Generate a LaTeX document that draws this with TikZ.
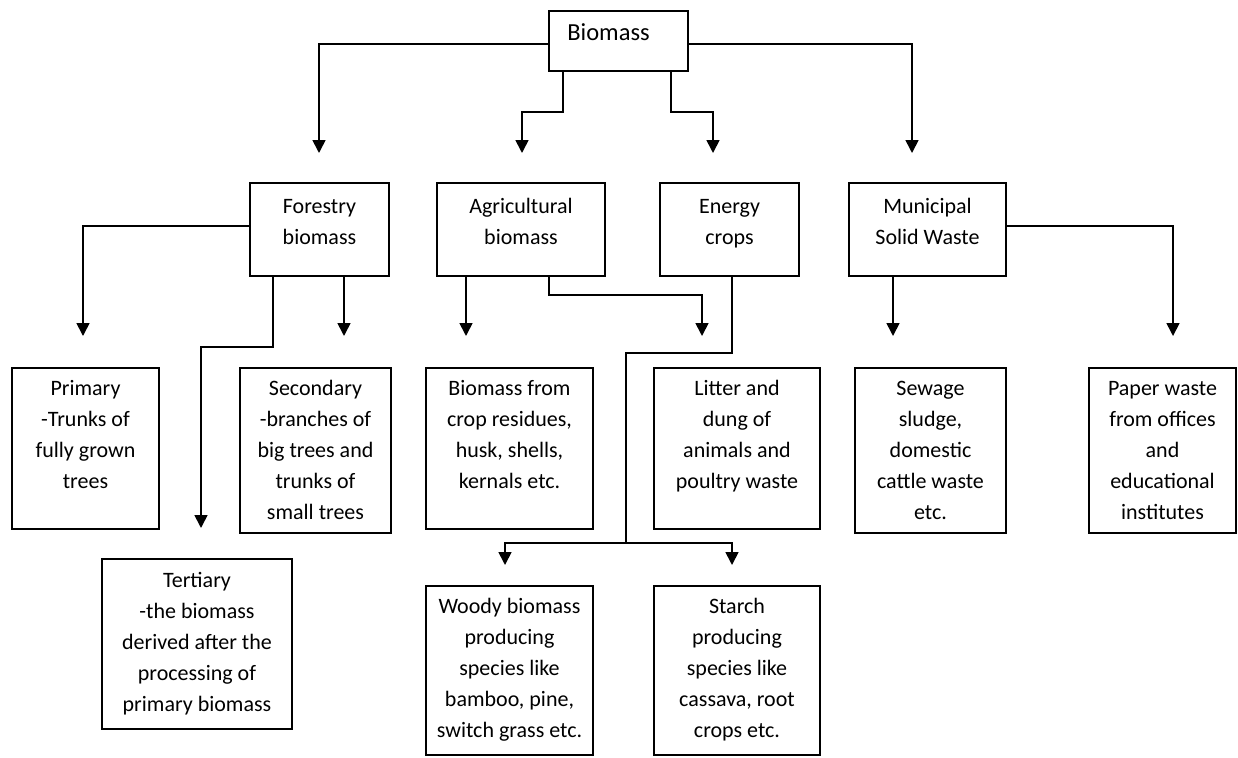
\documentclass[tikz,border=0pt]{standalone}
\usepackage{fontspec}
\setmainfont{Carlito}
\usetikzlibrary{arrows.meta}
\begin{document}
\begin{tikzpicture}[x=1pt,y=-1pt,
  box/.style={draw, line width=1.7pt, inner sep=0pt, outer sep=0pt},
  txt/.style={align=center, inner sep=0pt, anchor=north, font=\fontsize{22}{31}\selectfont},
  conn/.style={line width=1.7pt},
  arr/.style={line width=1.7pt, -{Triangle[width=13pt,length=13pt]}}]
\useasboundingbox (0,0) rectangle (1238,757);
% boxes: centre (cx,cy), width, height
\node[box, minimum width=139pt, minimum height=60pt] (bio) at (618.5,41) {};
\node[box, minimum width=139pt, minimum height=93pt] (for) at (319.5,229.5) {};
\node[box, minimum width=168pt, minimum height=93pt] (agr) at (521,229.5) {};
\node[box, minimum width=139pt, minimum height=93pt] (ene) at (729.5,229.5) {};
\node[box, minimum width=157pt, minimum height=93pt] (mun) at (927.5,229.5) {};
\node[box, minimum width=147pt, minimum height=161pt] (pri) at (85.5,448.5) {};
\node[box, minimum width=151pt, minimum height=165pt] (sec) at (315.5,450.5) {};
\node[box, minimum width=167pt, minimum height=161pt] (bfc) at (509.5,448.5) {};
\node[box, minimum width=166pt, minimum height=161pt] (lit) at (737,448.5) {};
\node[box, minimum width=151pt, minimum height=165pt] (sew) at (930.5,450.5) {};
\node[box, minimum width=147pt, minimum height=165pt] (pap) at (1162.5,450.5) {};
\node[box, minimum width=190pt, minimum height=170pt] (ter) at (197,644) {};
\node[box, minimum width=167pt, minimum height=169pt] (woo) at (509.5,670.5) {};
\node[box, minimum width=166pt, minimum height=169pt] (sta) at (737,670.5) {};
% texts
\node[txt, font=\fontsize{24.5}{31}\selectfont] (bioT) at ([xshift=-10pt,yshift=-7.5pt]bio.north) {\strut Biomass};
\node[txt] (forT) at ([yshift=-8.8pt]for.north) {\strut Forestry\\biomass};
\node[txt] (agrT) at ([yshift=-8.8pt]agr.north) {\strut Agricultural\\biomass};
\node[txt] (eneT) at ([yshift=-8.8pt]ene.north) {\strut Energy\\crops};
\node[txt] (munT) at ([yshift=-8.8pt]mun.north) {\strut Municipal\\Solid Waste};
\node[txt] (priT) at ([yshift=-6pt]pri.north) {\strut Primary\\-Trunks of\\fully grown\\trees};
\node[txt] (secT) at ([yshift=-6pt]sec.north) {\strut Secondary\\-branches of\\big trees and\\trunks of\\small trees};
\node[txt] (bfcT) at ([yshift=-6pt]bfc.north) {\strut Biomass from\\crop residues,\\husk, shells,\\kernals etc.};
\node[txt] (litT) at ([yshift=-6pt]lit.north) {\strut Litter and\\dung of\\animals and\\poultry waste};
\node[txt] (sewT) at ([yshift=-6pt]sew.north) {\strut Sewage\\sludge,\\domestic\\cattle waste\\etc.};
\node[txt] (papT) at ([yshift=-6pt]pap.north) {\strut Paper waste\\from offices\\and\\educational\\institutes};
\node[txt] (terT) at ([yshift=-6.8pt]ter.north) {\strut Tertiary\\-the biomass\\derived after the\\processing of\\primary biomass};
\node[txt] (wooT) at ([yshift=-6pt]woo.north) {\strut Woody biomass\\producing\\species like\\bamboo, pine,\\switch grass etc.};
\node[txt] (staT) at ([yshift=-6pt]sta.north) {\strut Starch\\producing\\species like\\cassava, root\\crops etc.};
% arrow tips
\coordinate (tFor) at (319,153);
\coordinate (tAgr) at (522,153);
\coordinate (tEne) at (713,153);
\coordinate (tMun) at (912,153);
\coordinate (tPri) at (83,336);
\coordinate (tSec) at (344,336);
\coordinate (tTer) at (201,528);
\coordinate (tBfc) at (466,336);
\coordinate (tLit) at (702,336);
\coordinate (tSew) at (893,336);
\coordinate (tPap) at (1173,336);
\coordinate (jn) at (626,543);
\coordinate (tWoo) at (505,565);
\coordinate (tSta) at (732,565);
% connectors
\draw[arr] ([yshift=-3pt]bio.west) -| (tFor);
\draw[arr] ([xshift=-55.5pt]bio.south) -- ++(0,41) -| (tAgr);
\draw[arr] ([xshift=52.5pt]bio.south) -- ++(0,41) -| (tEne);
\draw[arr] ([yshift=-3pt]bio.east) -| (tMun);
\draw[arr] ([yshift=3.5pt]for.west) -| (tPri);
\draw[arr] (for.south -| tSec) -- (tSec);
\draw[arr] ([xshift=-46.5pt]for.south) -- ++(0,71) -| (tTer);
\draw[arr] (agr.south -| tBfc) -- (tBfc);
\draw[arr] ([xshift=28pt]agr.south) -- ++(0,19) -| (tLit);
\draw[conn] ([xshift=2.5pt]ene.south) -- ++(0,77) -| (jn);
\draw[arr] (jn) -| (tWoo);
\draw[arr] (jn) -| (tSta);
\draw[arr] (mun.south -| tSew) -- (tSew);
\draw[arr] ([yshift=3.5pt]mun.east) -| (tPap);
\end{tikzpicture}
\end{document}
